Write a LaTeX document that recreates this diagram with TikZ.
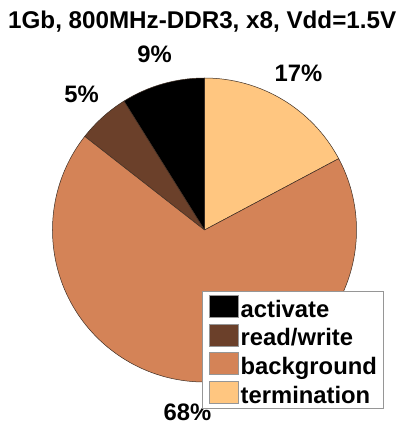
\documentclass[tikz,border=0pt]{standalone}
\usepackage{fontspec}
\setmainfont{Liberation Sans}
\definecolor{actcol}{RGB}{0,0,0}
\definecolor{rwcol}{RGB}{107,64,42}
\definecolor{bgcol}{RGB}{212,131,87}
\definecolor{termcol}{RGB}{255,198,128}
\definecolor{edgecol}{RGB}{60,45,35}
\definecolor{boxcol}{RGB}{150,150,150}
\tikzset{
  slice/.style={draw=edgecol, line width=0.5pt, line join=round},
  pct/.style={font=\bfseries\fontsize{23.8}{28}\selectfont, inner sep=0pt, anchor=base},
  swatch/.style={draw=boxcol, line width=0.6pt, minimum width=29.5pt, minimum height=22pt, inner sep=0pt, anchor=south west},
  legtext/.style={font=\bfseries\fontsize{23.8}{28}\selectfont, inner sep=0pt, anchor=base west}
}
\begin{document}
\begin{tikzpicture}[x=1pt, y=1pt]
\useasboundingbox (0,0) rectangle (397,424);
\coordinate (C) at (204.5,194);
\def\R{152}
% pie slices, angles counter-clockwise from the positive x axis
\filldraw[slice, fill=termcol] (C) -- ++(28:\R) arc[start angle=28, end angle=90, radius=\R] -- cycle;
\filldraw[slice, fill=actcol] (C) -- ++(90:\R) arc[start angle=90, end angle=122, radius=\R] -- cycle;
\filldraw[slice, fill=rwcol] (C) -- ++(122:\R) arc[start angle=122, end angle=142, radius=\R] -- cycle;
\filldraw[slice, fill=bgcol] (C) -- ++(142:\R) arc[start angle=142, end angle=388, radius=\R] -- cycle;
% title and percentage labels
\node[pct, font=\bfseries\fontsize{24.2}{28}\selectfont] (title) at (202.2,395.7) {1Gb, 800MHz-DDR3, x8, Vdd=1.5V};
\node[pct] (pact) at (154.5,361) {9\%};
\node[pct] (prw) at (81.5,321) {5\%};
\node[pct] (pterm) at (298.5,342) {17\%};
\node[pct] (pbg) at (187.5,4) {68\%};
% legend
\draw[draw=boxcol, fill=white, line width=0.6pt] (202,133) rectangle (383,16);
\foreach \c/\t/\n [count=\i from 0] in {actcol/activate/a, rwcol/read\slash write/b, bgcol/background/c, termcol/termination/d}{
  \node[swatch, fill=\c] (sw\n) at (208.5,{424-317.7-28.7*\i}) {};
  \node[legtext] (lt\n) at (240.5,{424-317.2-28.7*\i}) {\t};
}
\end{tikzpicture}
\end{document}
